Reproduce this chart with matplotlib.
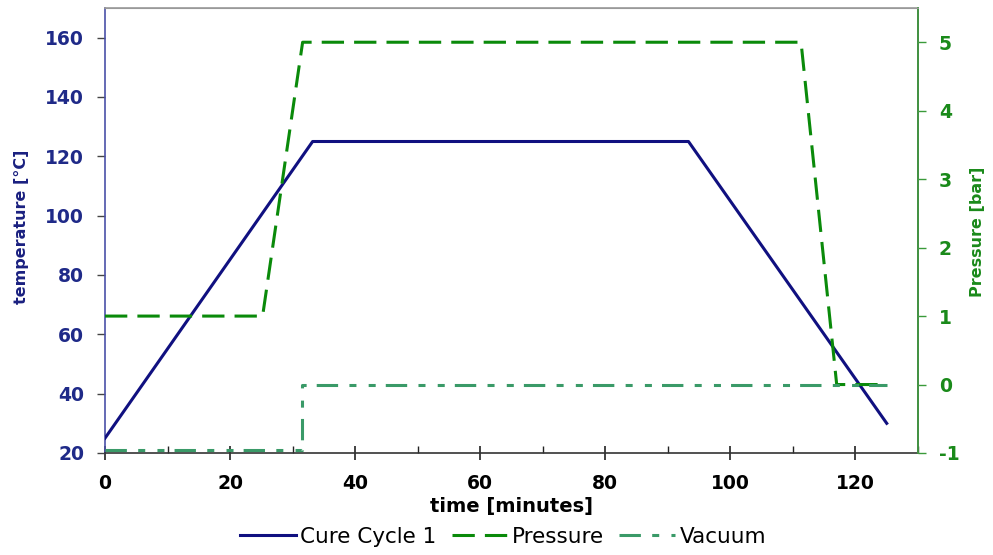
import matplotlib
matplotlib.use("Agg")
import matplotlib.pyplot as plt
from matplotlib.ticker import MultipleLocator

plt.rcParams['font.family'] = ['DejaVu Sans']
plt.rcParams['axes.unicode_minus'] = False

# Data
temp_time = [0, 33.2, 93.3, 125]
temp_vals = [25, 125, 125, 30]
press_time = [0, 25.2, 31.6, 111.3, 117.0, 125]
press_vals = [1, 1, 5, 5, 0, 0]
vac_time = [0, 31.5, 31.5, 125]
vac_vals = [-0.95, -0.95, 0, 0]

navy = '#101080'
green = '#0a8a0a'
vacgreen = '#3a9a68'

fig = plt.figure(figsize=(9.93, 5.55), dpi=100)
ax = fig.add_axes([105/993, 1-453/555, (918-105)/993, (453-8)/555])
ax2 = ax.twinx()

l1, = ax.plot(temp_time, temp_vals, color=navy, lw=2.2, label='Cure Cycle 1', zorder=3)
l2, = ax2.plot(press_time, press_vals, color=green, lw=2.2, dashes=(7.3, 3.3), label='Pressure')
l3, = ax2.plot(vac_time, vac_vals, color=vacgreen, lw=2.2, dashes=(7, 3.7, 2.3, 4, 2.3, 3.3), label='Vacuum')

ax.set_xlim(0, 130)
ax.set_ylim(20, 170)
ax2.set_ylim(-1, 5.5)

ax.xaxis.set_major_locator(MultipleLocator(20))
ax.xaxis.set_minor_locator(MultipleLocator(10))
ax.yaxis.set_major_locator(MultipleLocator(20))
ax2.yaxis.set_major_locator(MultipleLocator(1))

ax.tick_params(axis='x', which='major', direction='inout', length=10, width=1.2, color='#222222',
               labelsize=13.5, pad=10)
ax.tick_params(axis='x', which='minor', direction='in', length=5, width=1.0, color='#222222')
ax.tick_params(axis='y', which='major', direction='out', length=6, width=1.0, color='#444444',
               labelsize=13.5, labelcolor='#1f2a88', pad=9)
ax2.tick_params(axis='y', which='major', direction='out', length=6, width=1.0, color='#3a9a3a',
                labelsize=13.5, labelcolor='#1a8a1a', pad=9)

for lab in ax.get_xticklabels() + ax.get_yticklabels() + ax2.get_yticklabels():
    lab.set_fontweight('bold')

ax.spines['left'].set_color('#4a50a8')
ax.spines['bottom'].set_color('#333333')
ax.spines['top'].set_color('#999999')
ax2.spines['right'].set_color('#4aa84a')
ax2.spines['left'].set_visible(False)
ax2.spines['top'].set_color('#999999')
ax2.spines['bottom'].set_visible(False)
for sp in ax.spines.values():
    sp.set_linewidth(1.2)
ax2.spines['right'].set_linewidth(1.2)

ax.set_xlabel('time [minutes]', fontsize=14, fontweight='bold', labelpad=3)
ax.set_ylabel('temperature [°C]', fontsize=11.5, fontweight='bold', color='#1a2080')
ax2.set_ylabel('Pressure [bar]', fontsize=11.5, fontweight='bold', color='#1a8a1a')
ax.yaxis.set_label_coords((29-105)/813, (453-227)/445)
ax2.yaxis.set_label_coords((970-105)/813, (453-232)/445)

fig.legend(handles=[l1, l2, l3], loc='center', bbox_to_anchor=(503/993, 1-537/555), ncol=3,
           frameon=False, fontsize=15.5, handlelength=2.6, handletextpad=0.2, columnspacing=0.7,
           borderaxespad=0)

fig.savefig('out.png', dpi=100)
